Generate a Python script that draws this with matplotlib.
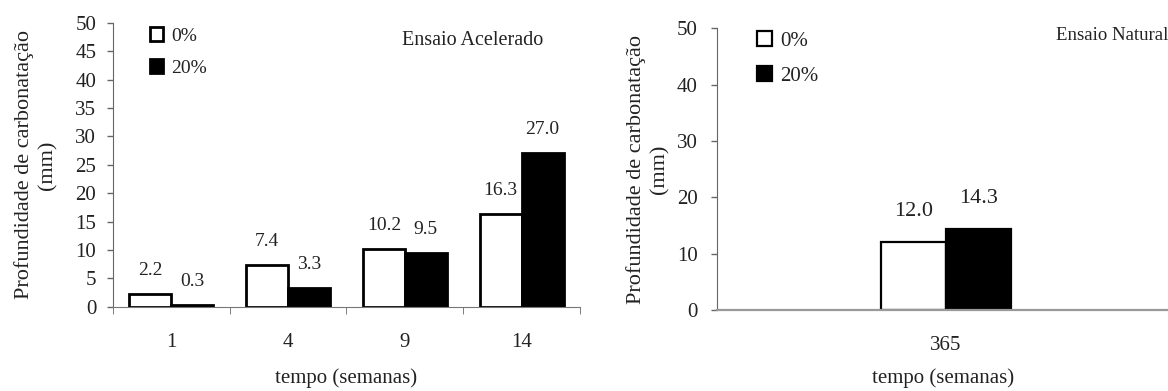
import numpy as np
import matplotlib
matplotlib.use('Agg')
import matplotlib.pyplot as plt

plt.rcParams['font.family'] = ['Liberation Serif', 'DejaVu Serif']

# dados - ensaio acelerado
semanas = ['1', '4', '9', '14']
acel_0 = [2.2, 7.4, 10.2, 16.3]
acel_20 = [0.3, 3.3, 9.5, 27.0]

# dados - ensaio natural
semanas_nat = ['365']
nat_0 = [12.0]
nat_20 = [14.3]

series_labels = ['0%', '20%']
ylabel = 'Profundidade de carbonatação\n(mm)'
xlabel = 'tempo (semanas)'

txt = '#222222'
fig = plt.figure(figsize=(11.68, 3.91), dpi=100)
ax0 = fig.add_axes([0.0967, 0.2158, 0.3999, 0.7253])
ax1 = fig.add_axes([0.614, 0.207, 0.386, 0.721])


def draw(ax, cats, v0, v20, width, xlim, yticks, lab_off, sizes, title, tpos, legpos, tickpad, ew):
    fs_tick, fs_val, fs_title, fs_leg = sizes
    x = np.arange(len(cats))
    b0 = ax.bar(x - width / 2, v0, width, color='white', edgecolor='black', linewidth=ew, label=series_labels[0])
    b1 = ax.bar(x + width / 2, v20, width, color='black', edgecolor='black', linewidth=ew, label=series_labels[1])
    for bars, vals in ((b0, v0), (b1, v20)):
        for r, v in zip(bars, vals):
            ax.annotate('%.1f' % v, (r.get_x() + r.get_width() / 2, v), xytext=(0, lab_off),
                        textcoords='offset points', ha='center', va='center', fontsize=fs_val, color=txt)
    ax.set_xlim(*xlim)
    ax.set_ylim(0, 50)
    ax.set_yticks(yticks)
    ax.set_xticks(x)
    ax.set_xticklabels(cats)
    ax.tick_params(axis='x', length=0, pad=tickpad, labelsize=fs_tick, labelcolor=txt)
    ax.tick_params(axis='y', length=4, width=1, direction='out', labelsize=fs_tick, labelcolor=txt, color='#666666')
    for s in ['top', 'right']:
        ax.spines[s].set_visible(False)
    ax.spines['left'].set_color('#666666')
    ax.spines['bottom'].set_color('#777777')
    ax.text(tpos[0], tpos[1], title, transform=ax.transAxes, ha='right', va='center', fontsize=fs_title,
            color=txt, clip_on=False)
    ax.legend(loc='upper left', bbox_to_anchor=legpos, frameon=False, fontsize=fs_leg, handlelength=0.7,
              handleheight=0.7, handletextpad=0.4, labelspacing=0.75, borderpad=0, borderaxespad=0,
              labelcolor=txt)
    ax.set_ylabel(ylabel, fontsize=16, color=txt, linespacing=1.3, va='center')
    ax.set_xlabel(xlabel, fontsize=15, color=txt, va='center')


draw(ax0, semanas, acel_0, acel_20, 0.36, (-0.5, 3.5), np.arange(0, 51, 5), 17, (15, 14, 14.5, 14),
     'Ensaio Acelerado', (0.921, 0.94), (0.079, 0.985), 19, 2)
# separadores das categorias no eixo x
ax0.set_xticks(np.arange(-0.5, 4, 1), minor=True)
ax0.tick_params(axis='x', which='minor', length=5, direction='out', color='#666666')
ax0.tick_params(axis='y', pad=8)
ax0.yaxis.set_label_coords(-0.165, 0.5)
ax0.xaxis.set_label_coords(0.5, -0.252)

draw(ax1, semanas_nat, nat_0, nat_20, 0.142, (-0.5, 0.485), np.arange(0, 51, 10), 22, (15, 16, 13.5, 15),
     'Ensaio Natural', (1.0, 0.975), (0.089, 0.99), 19, 1.6)
ax1.tick_params(axis='y', pad=10)
ax1.spines['bottom'].set_linewidth(1.6)
ax1.spines['bottom'].set_color('#999999')
ax1.yaxis.set_label_coords(-0.153, 0.5)
ax1.xaxis.set_label_coords(0.5, -0.241)

fig.savefig('out.png', dpi=100)
